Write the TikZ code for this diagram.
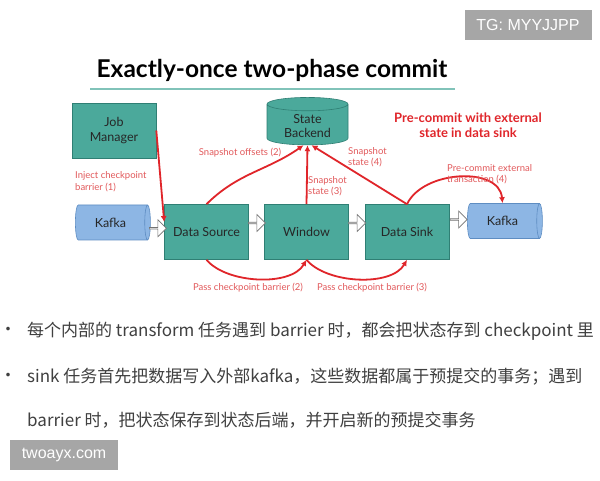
\documentclass[tikz,border=0pt]{standalone}
\usepackage{fontspec}
\setmainfont{Lato}
\newfontfamily\cjk{Noto Sans CJK SC}
\newfontfamily\wmfont{Liberation Sans}
\usepackage{tikz}
\usetikzlibrary{arrows.meta}
\usetikzlibrary{shapes.geometric}
\usetikzlibrary{shapes.arrows}
\definecolor{teal1}{HTML}{4BA99B}
\definecolor{teal2}{HTML}{2F7F74}
\definecolor{kblue}{HTML}{8DB6E4}
\definecolor{kedge}{HTML}{5E8DC2}
\definecolor{rline}{HTML}{E0252A}
\definecolor{rtext}{HTML}{E2595B}
\definecolor{wmark}{HTML}{A6A6A6}

\begin{document}
\begin{tikzpicture}[x=1pt,y=1pt,
  box/.style={draw=teal2,fill=teal1,line width=0.6pt,minimum width=84pt,minimum height=55pt,
    align=center,font=\fontsize{12.5}{15}\selectfont,text=black!85},
  kafka/.style={cylinder,draw=kedge,fill=kblue,line width=0.6pt,minimum width=35pt,minimum height=75pt,
    aspect=0.35,font=\fontsize{12.5}{15}\selectfont,text=black!85},
  db/.style={cylinder,shape border rotate=90,draw=teal2,fill=teal1,line width=0.6pt,
    minimum width=81pt,minimum height=38pt,aspect=0.25,align=center,
    font=\fontsize{12.5}{14}\selectfont,text=black!85},
  hollow/.style={single arrow,draw=black!55,fill=white,line width=0.6pt,minimum height=17pt,
    minimum width=17pt,single arrow head extend=3pt,inner sep=0pt},
  pass/.style={draw=rline,line width=1.8pt,->,>={Latex[length=6pt,width=6pt]}},
  lbl/.style={text=rtext,font=\fontsize{9.5}{11.5}\selectfont,align=left,inner sep=0pt},
  wm/.style={fill=wmark,text=white,font=\wmfont\fontsize{16}{18}\selectfont,inner sep=0pt},
  bullet/.style={text=black!75,font=\cjk\fontsize{17}{20}\selectfont,inner sep=0pt}]
\useasboundingbox[fill=white] (0,0) rectangle (600,480);

% watermarks
\draw (528,455) node[wm,minimum width=127pt,minimum height=30pt](tg) {TG: MYYJJPP};
\draw (64,25) node[wm,minimum width=108pt,minimum height=30pt](site) {twoayx.com};

% title
\draw (272,402) node[anchor=base,font=\fontsize{24.5}{28}\selectfont\bfseries](title) {Exactly-once two-phase commit};
\draw[teal1!70,line width=1.3pt] (90,391) -- (455,391);

% nodes
\draw (114,349.5) node[box](jm) {Job\\Manager};
\draw (307.5,354) node[db](sb) {State\\Backend};
\draw (110.5,257.5) node[kafka](k1) {Kafka};
\draw (206.5,248) node[box](ds) {Data Source};
\draw (306.5,248) node[box](win) {Window};
\draw (407,248) node[box](snk) {Data Sink};
\draw (502.5,259) node[kafka](k2) {Kafka};

\draw (468,354.5) node[text=rline,font=\fontsize{13}{15}\selectfont\bfseries,align=center](pc)
  {Pre-commit with external\\state in data sink};

% data flow
\path (k1.east) -- (ds.west) node[midway,hollow,yshift=-1pt](a1) {};
\path (ds.east) -- (win.west) node[midway,hollow,yshift=9pt](a2) {};
\path (win.east) -- (snk.west) node[midway,hollow,yshift=9pt](a3) {};
\path (snk.east) -- (k2.west) node[midway,hollow,yshift=7pt](a4) {};

% barriers and snapshots
\draw[pass] (jm.east) -- ([yshift=10pt]ds.west);
\draw[pass] (ds.north) to[out=45,in=-145] ([xshift=-4pt]sb.south);
\draw[pass] (win.north) -- (sb.south);
\draw[pass] (snk.north) -- ([xshift=4pt]sb.south);
\draw[pass] (snk.north) to[out=65,in=95] (k2.north);
\draw[pass] (ds.south) to[out=-50,in=-120,looseness=0.8] (win.south);
\draw[pass] (win.south) to[out=-50,in=-120,looseness=0.8] (snk.south);

\draw (75,298.5) node[lbl,anchor=west](l1) {Inject checkpoint\\barrier (1)};
\draw (240,327) node[lbl](l2) {Snapshot offsets (2)};
\draw (308,294) node[lbl,anchor=west](l3) {Snapshot\\state (3)};
\draw (348,323) node[lbl,anchor=west](l4) {Snapshot\\state (4)};
\draw (447,306) node[lbl,anchor=west](l5) {Pre-commit external\\transaction (4)};
\draw (248,192) node[lbl](l6) {Pass checkpoint barrier (2)};
\draw (372,192) node[lbl](l7) {Pass checkpoint barrier (3)};

% notes
\draw (8,149) node[bullet](b1) {•};
\draw (27,149) node[bullet,anchor=west](t1) {每个内部的 transform 任务遇到 barrier 时，都会把状态存到 checkpoint 里};
\draw (8,103) node[bullet](b2) {•};
\draw (27,103) node[bullet,anchor=west](t2) {sink 任务首先把数据写入外部kafka，这些数据都属于预提交的事务；遇到};
\draw (27,60) node[bullet,anchor=west](t3) {barrier 时，把状态保存到状态后端，并开启新的预提交事务};
\end{tikzpicture}
\end{document}
